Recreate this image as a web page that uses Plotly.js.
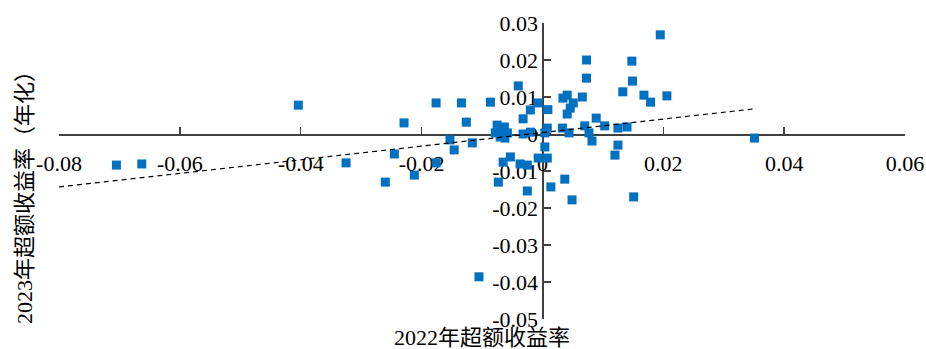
<!DOCTYPE html>
<html>
<head>
<meta charset="utf-8">
<script src="https://cdn.plot.ly/plotly-3.0.1.min.js"></script>
<style>html,body{margin:0;padding:0;background:#fff;}#chart{width:926px;height:349px;}</style>
</head>
<body>
<div id="chart"></div>
<script>
const xVals = [-0.0705,-0.0663,-0.0404,-0.0325,-0.0260,-0.0245,-0.0229,-0.0212,-0.0176,-0.0176,
  -0.0153,-0.0146,-0.0134,-0.0126,-0.0116,-0.0040,-0.0086,-0.0105,-0.0075,-0.0067,
  -0.0078,-0.0070,-0.0058,-0.0063,-0.0062,-0.0020,-0.0007,0.0009,-0.0032,-0.0020,
  -0.0032,0.0008,0.0004,0.0004,-0.0007,0.0008,-0.0053,-0.0065,-0.0037,-0.0025,
  -0.0073,-0.0025,0.0014,0.0037,0.0049,0.0195,0.0073,0.0148,0.0073,0.0149,
  0.0133,0.0168,0.0206,0.0179,0.0066,0.0041,0.0034,0.0051,0.0046,0.0041,
  0.0089,0.0103,0.0070,0.0077,0.0082,0.0125,0.0140,0.0033,0.0044,0.0125,
  0.0120,0.0151,0.0351];
const yVals = [-0.0084,-0.0081,0.0078,-0.0078,-0.0130,-0.0054,0.0030,-0.0111,0.0084,-0.0078,
  -0.0016,-0.0043,0.0084,0.0032,-0.0024,0.0130,0.0086,-0.0386,0.0024,0.0011,
  0.0003,-0.0008,0.0003,0.0019,-0.0011,0.0065,0.0084,0.0066,0.0041,0.0005,
  0.0000,0.0016,0.0003,-0.0035,-0.0065,-0.0065,-0.0062,-0.0076,-0.0081,-0.0084,
  -0.0130,-0.0154,-0.0143,-0.0122,-0.0178,0.0268,0.0200,0.0197,0.0151,0.0143,
  0.0114,0.0105,0.0103,0.0086,0.0100,0.0105,0.0097,0.0084,0.0070,0.0054,
  0.0043,0.0022,0.0022,0.0003,-0.0019,0.0016,0.0019,0.0016,0.0003,-0.0030,
  -0.0057,-0.0170,-0.0011];
const trendX = [-0.08, 0.035];
const trendY = [-0.0143, 0.0068];
const xTickVals = [-0.08,-0.06,-0.04,-0.02,0,0.02,0.04,0.06];
const xTickText = ["-0.08","-0.06","-0.04","-0.02","0","0.02","0.04","0.06"];
const yTickVals = [-0.05,-0.04,-0.03,-0.02,-0.01,0,0.01,0.02,0.03];
const yTickText = ["-0.05","-0.04","-0.03","-0.02","-0.01","0","0.01","0.02","0.03"];
const xTitle = "2022年超额收益率";
const yTitle = "2023年超额收益率（年化）";

const xRange = [-0.08, 0.06];
const yRange = [-0.05, 0.03];
const tickFont = {family: "Liberation Serif", size: 22, color: "#000"};
const titleFont = {family: "Liberation Serif, Noto Sans CJK SC", size: 22, color: "#000"};

const data = [
  {x: xVals, y: yVals, type: "scatter", mode: "markers",
   marker: {symbol: "square", size: 9, color: "#0070C0"}, hoverinfo: "skip"},
  {x: trendX, y: trendY, type: "scatter", mode: "lines",
   line: {color: "#000", width: 1.2, dash: "5px,4px"}, hoverinfo: "skip"}
];
const layout = {
  width: 926, height: 349,
  margin: {l: 59, r: 21, t: 23, b: 30},
  paper_bgcolor: "#fff", plot_bgcolor: "#fff",
  showlegend: false,
  xaxis: {range: xRange, anchor: "free", position: (0 - yRange[0]) / (yRange[1] - yRange[0]),
    tickvals: xTickVals, ticktext: xTickText, ticks: "inside", ticklen: 7, tickwidth: 1.5, tickcolor: "#404040",
    showline: true, linecolor: "#404040", linewidth: 1.5, showgrid: false, zeroline: false,
    tickfont: tickFont, ticklabelstandoff: 9, layer: "below traces"},
  yaxis: {range: yRange, anchor: "free", position: (0 - xRange[0]) / (xRange[1] - xRange[0]),
    tickvals: yTickVals, ticktext: yTickText, ticks: "inside", ticklen: 7, tickwidth: 1.5, tickcolor: "#404040",
    showline: true, linecolor: "#404040", linewidth: 1.5, showgrid: false, zeroline: false,
    tickfont: tickFont, layer: "below traces"},
  annotations: [
    {text: xTitle, xref: "paper", yref: "paper", x: 0.5, y: -0.064, xanchor: "center", yanchor: "middle",
     showarrow: false, font: titleFont},
    {text: yTitle, xref: "paper", yref: "paper", x: -0.040, y: 0.43, xanchor: "center", yanchor: "middle",
     textangle: -90, showarrow: false, font: titleFont}
  ]
};
Plotly.newPlot("chart", data, layout, {displayModeBar: false, staticPlot: true});
</script>
</body>
</html>
